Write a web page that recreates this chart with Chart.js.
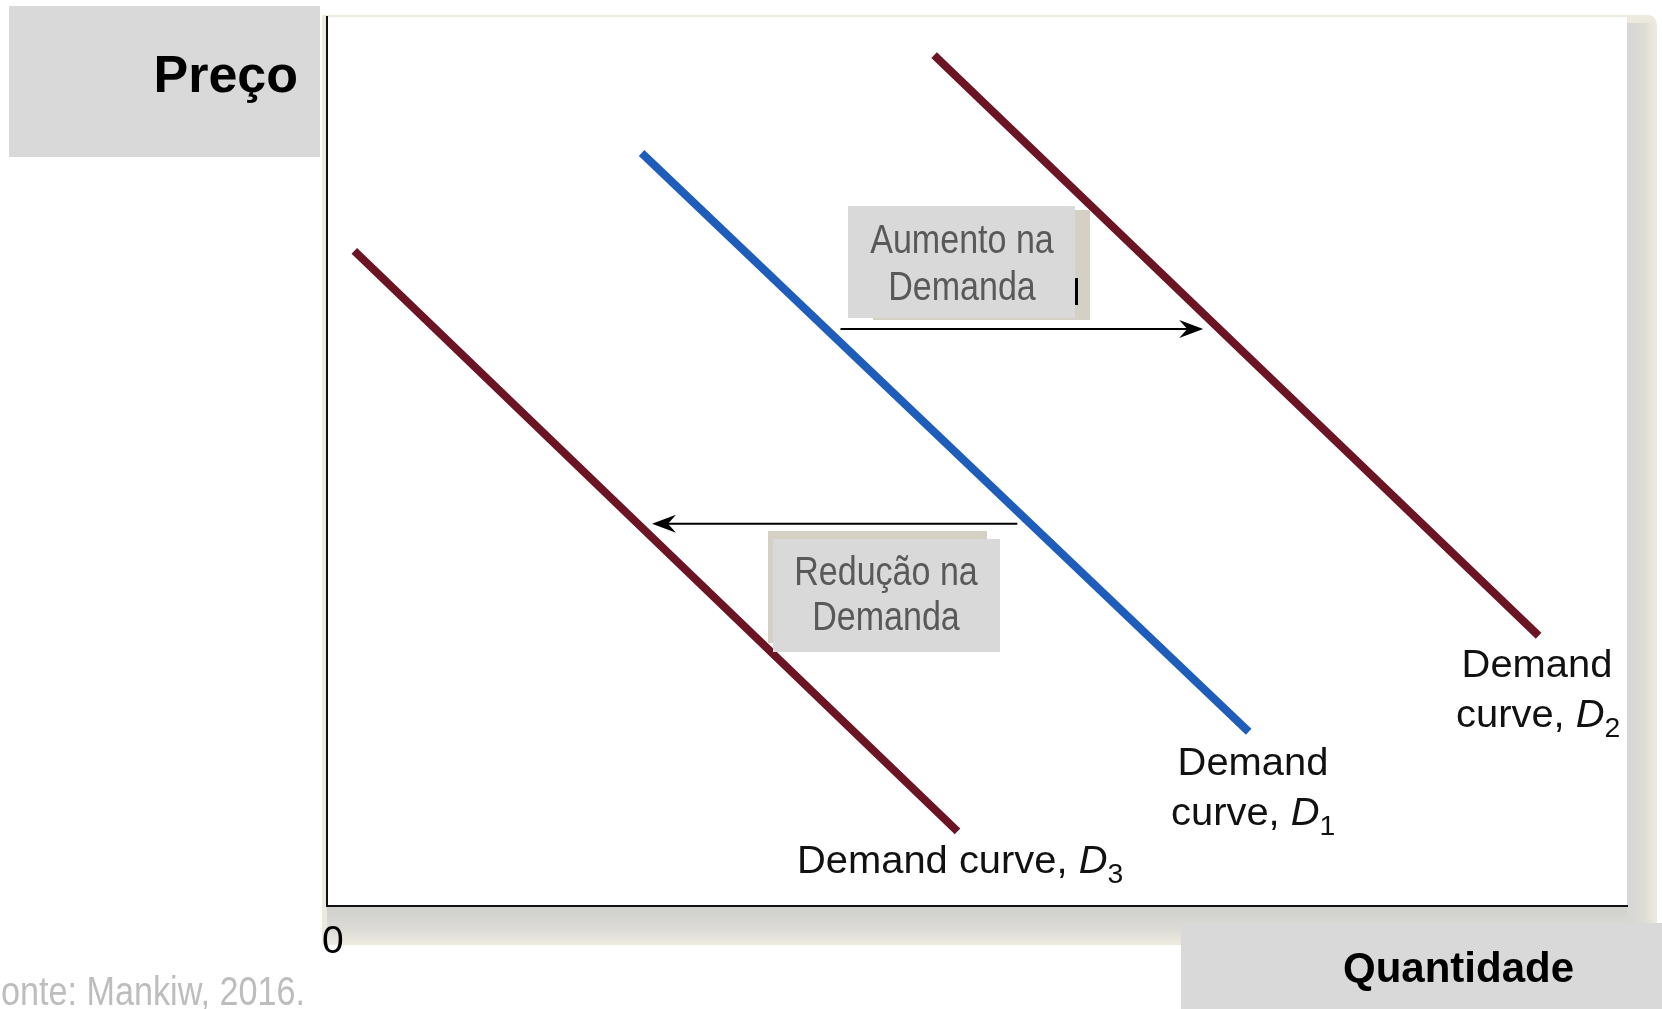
<!DOCTYPE html>
<html>
<head>
<meta charset="utf-8">
<title>Deslocamentos da curva de demanda</title>
<script src="https://cdn.jsdelivr.net/npm/chart.js@4.4.1/dist/chart.umd.min.js"></script>
<style>
  html, body { margin: 0; padding: 0; background: #fff; overflow: hidden; }
  #demandChart { display: block; }
</style>
</head>
<body>
<canvas id="demandChart" width="1662" height="1009"></canvas>
<script>
// Curve endpoints (quantity, price) on a 0-100 scale
const quantityD1 = [24.2, 70.9];
const priceD1 = [84.7, 19.6];
const quantityD2 = [46.7, 93.2];
const priceD2 = [95.7, 30.4];
const quantityD3 = [2.1, 48.5];
const priceD3 = [73.7, 8.4];

// Shift arrows: [fromQuantity, toQuantity] at a price level
const increaseArrow = [39.5, 67.4];
const increasePrice = 64.9;
const decreaseArrow = [53.1, 25.0];
const decreasePrice = 43.0;

const maroon = '#6a1424';
const blue = '#1f5dba';
const boxGray = '#d9d9d9';
const shadowBeige = '#d4d0c4';
const labelFont = '"Liberation Sans", Arial, sans-serif';

function toPoints(xs, ys) {
  return xs.map((x, i) => ({ x: x, y: ys[i] }));
}

// Text with italic D and subscript number, slightly widened
function drawCurveLabel(ctx, prefix, sub, x, y) {
  ctx.save();
  ctx.translate(x, y);
  ctx.scale(1.05, 1);
  ctx.textAlign = 'left';
  ctx.textBaseline = 'alphabetic';
  ctx.fillStyle = '#111';
  let cx = 0;
  ctx.font = '38px ' + labelFont;
  ctx.fillText(prefix, cx, 0);
  cx += ctx.measureText(prefix).width;
  ctx.font = 'italic 38px ' + labelFont;
  ctx.fillText('D', cx, 0);
  cx += ctx.measureText('D').width;
  ctx.font = '27px ' + labelFont;
  ctx.fillText(sub, cx, 10);
  ctx.restore();
}

function drawCentered(ctx, text, cx, y) {
  ctx.save();
  ctx.translate(cx, y);
  ctx.scale(1.05, 1);
  ctx.font = '38px ' + labelFont;
  ctx.fillStyle = '#111';
  ctx.textAlign = 'center';
  ctx.textBaseline = 'alphabetic';
  ctx.fillText(text, 0, 0);
  ctx.restore();
}

// Narrow grey text, centred
function drawNarrow(ctx, text, cx, baseline, size, color) {
  ctx.save();
  ctx.font = size + 'px ' + labelFont;
  ctx.fillStyle = color;
  ctx.textAlign = 'center';
  ctx.textBaseline = 'alphabetic';
  ctx.translate(cx, baseline);
  ctx.scale(0.83, 1);
  ctx.fillText(text, 0, 0);
  ctx.restore();
}

function drawArrow(ctx, x1, x2, y) {
  const dir = x2 > x1 ? 1 : -1;
  ctx.save();
  ctx.strokeStyle = '#000';
  ctx.fillStyle = '#000';
  ctx.lineWidth = 2;
  ctx.beginPath();
  ctx.moveTo(x1, y);
  ctx.lineTo(x2 - dir * 12, y);
  ctx.stroke();
  ctx.beginPath();
  ctx.moveTo(x2, y);
  ctx.lineTo(x2 - dir * 24, y - 9);
  ctx.lineTo(x2 - dir * 16, y);
  ctx.lineTo(x2 - dir * 24, y + 9);
  ctx.closePath();
  ctx.fill();
  ctx.restore();
}

const framePlugin = {
  id: 'frame',
  beforeDraw(chart) {
    const ctx = chart.ctx;
    const a = chart.chartArea;
    ctx.save();
    ctx.fillStyle = '#fff';
    ctx.fillRect(0, 0, chart.width, chart.height);

    // drop shadow behind the plot area
    ctx.fillStyle = '#ece9df';
    ctx.beginPath();
    ctx.moveTo(a.left - 5, a.top - 2);
    ctx.lineTo(a.right + 20, a.top - 2);
    ctx.quadraticCurveTo(a.right + 30, a.top - 2, a.right + 30, a.top + 10);
    ctx.lineTo(a.right + 30, a.bottom + 39);
    ctx.lineTo(a.left - 5, a.bottom + 39);
    ctx.closePath();
    ctx.fill();

    let g = ctx.createLinearGradient(0, a.bottom, 0, a.bottom + 39);
    g.addColorStop(0, '#cfcfcd');
    g.addColorStop(0.6, '#dcdbd6');
    g.addColorStop(1, '#eeebe1');
    ctx.fillStyle = g;
    ctx.fillRect(a.left, a.bottom, a.right - a.left + 26, 37);

    g = ctx.createLinearGradient(a.right, 0, a.right + 30, 0);
    g.addColorStop(0, '#d6d6d4');
    g.addColorStop(0.6, '#dedcd6');
    g.addColorStop(1, '#eeebe1');
    ctx.fillStyle = g;
    ctx.fillRect(a.right, a.top + 6, 28, a.bottom - a.top + 26);

    ctx.fillStyle = '#fff';
    ctx.fillRect(a.left, a.top, a.right - a.left, a.bottom - a.top);

    // axis title box for price
    ctx.fillStyle = boxGray;
    ctx.fillRect(9, 6, 311, 151);
    ctx.fillStyle = '#000';
    ctx.font = 'bold 52px ' + labelFont;
    ctx.textAlign = 'right';
    ctx.textBaseline = 'alphabetic';
    ctx.fillText('Preço', 298, 92);
    ctx.restore();
  },
  afterDatasetsDraw(chart) {
    const ctx = chart.ctx;
    const xs = chart.scales.x;
    const ys = chart.scales.y;
    ctx.save();

    // increase in demand
    ctx.fillStyle = shadowBeige;
    ctx.fillRect(873, 210, 217, 110);
    ctx.fillStyle = boxGray;
    ctx.fillRect(848, 206, 227, 112);
    ctx.fillStyle = '#000';
    ctx.fillRect(1075, 278, 3, 27);
    drawNarrow(ctx, 'Aumento na', 962, 253, 41, '#595959');
    drawNarrow(ctx, 'Demanda', 962, 300, 41, '#595959');
    drawArrow(ctx, xs.getPixelForValue(increaseArrow[0]), xs.getPixelForValue(increaseArrow[1]),
      ys.getPixelForValue(increasePrice));

    // decrease in demand
    drawArrow(ctx, xs.getPixelForValue(decreaseArrow[0]), xs.getPixelForValue(decreaseArrow[1]),
      ys.getPixelForValue(decreasePrice));
    ctx.fillStyle = shadowBeige;
    ctx.fillRect(768, 531, 219, 112);
    ctx.fillStyle = boxGray;
    ctx.fillRect(773, 539, 227, 113);
    drawNarrow(ctx, 'Redução na', 886, 585, 41, '#595959');
    drawNarrow(ctx, 'Demanda', 886, 630, 41, '#595959');

    // curve labels
    drawCentered(ctx, 'Demand', 1537, 677);
    drawCurveLabel(ctx, 'curve, ', '2', 1456, 727);
    drawCentered(ctx, 'Demand', 1253, 775);
    drawCurveLabel(ctx, 'curve, ', '1', 1171, 825);
    drawCurveLabel(ctx, 'Demand curve, ', '3', 797, 873);

    // origin
    ctx.fillStyle = '#000';
    ctx.font = '39px ' + labelFont;
    ctx.textAlign = 'left';
    ctx.textBaseline = 'alphabetic';
    ctx.fillText('0', 322, 953);

    // axis title box for quantity
    ctx.fillStyle = boxGray;
    ctx.fillRect(1181, 923, 481, 86);
    ctx.fillStyle = '#000';
    ctx.font = 'bold 42px ' + labelFont;
    ctx.fillText('Quantidade', 1343, 982);

    // source note, running off the left edge
    ctx.font = '40px ' + labelFont;
    ctx.fillStyle = '#bdbdbd';
    ctx.textAlign = 'right';
    const tail = ctx.measureText('onte: Mankiw, 2016.').width;
    ctx.save();
    ctx.translate(305, 1005);
    ctx.scale(304 / tail, 1);
    ctx.fillText('Fonte: Mankiw, 2016.', 0, 0);
    ctx.restore();
    ctx.restore();
  }
};

const lineStyle = { showLine: true, pointRadius: 0, borderWidth: 8, borderCapStyle: 'butt', fill: false };

new Chart(document.getElementById('demandChart'), {
  type: 'scatter',
  data: {
    datasets: [
      { label: 'D3', data: toPoints(quantityD3, priceD3), borderColor: maroon, ...lineStyle },
      { label: 'D1', data: toPoints(quantityD1, priceD1), borderColor: blue, ...lineStyle },
      { label: 'D2', data: toPoints(quantityD2, priceD2), borderColor: maroon, ...lineStyle }
    ]
  },
  options: {
    responsive: false,
    animation: false,
    devicePixelRatio: 1,
    layout: { padding: { left: 327, top: 17, right: 35, bottom: 103 } },
    plugins: { legend: { display: false }, tooltip: { enabled: false } },
    scales: {
      x: {
        type: 'linear', min: 0, max: 100,
        grid: { display: false, drawTicks: false },
        ticks: { display: false },
        border: { display: true, color: '#111', width: 2 }
      },
      y: {
        type: 'linear', min: 0, max: 100,
        grid: { display: false, drawTicks: false },
        ticks: { display: false },
        border: { display: true, color: '#111', width: 2 }
      }
    }
  },
  plugins: [framePlugin]
});
</script>
</body>
</html>
